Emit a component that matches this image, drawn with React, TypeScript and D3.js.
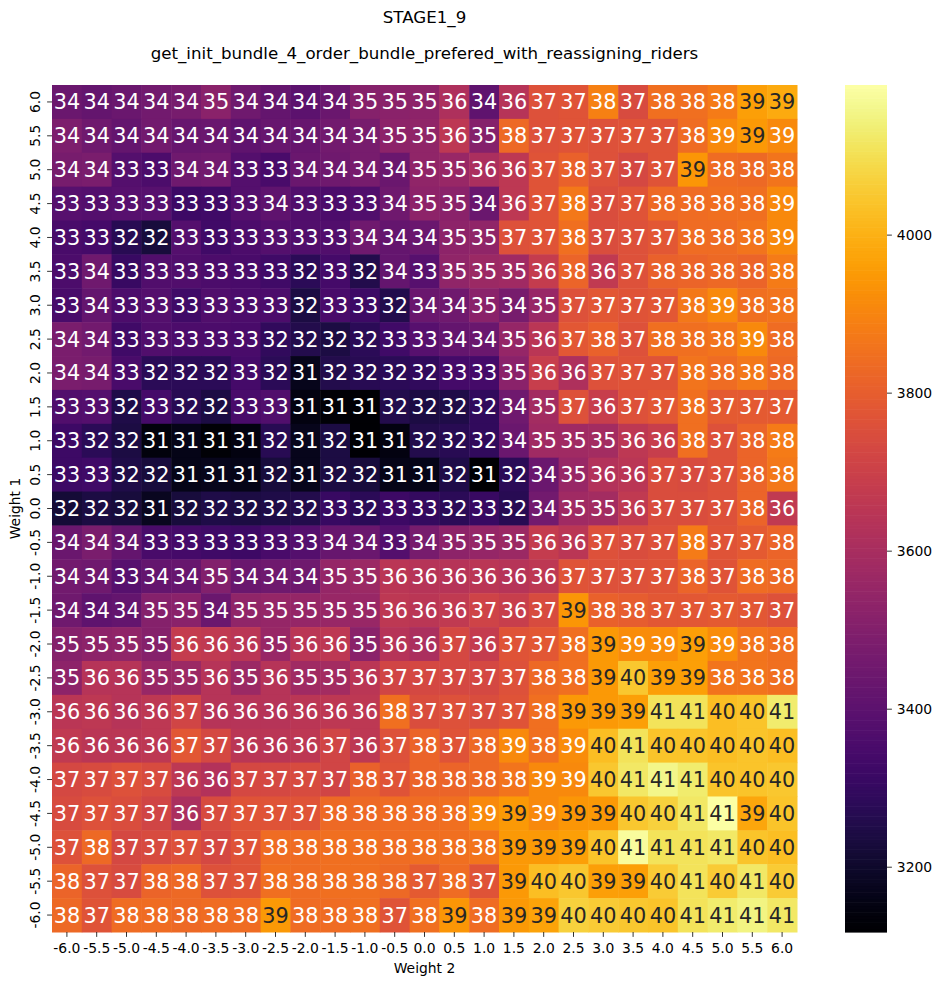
import React from 'react';
import * as d3 from 'd3';

const weight1: number[] = [6.0, 5.5, 5.0, 4.5, 4.0, 3.5, 3.0, 2.5, 2.0, 1.5, 1.0, 0.5, 0.0, -0.5, -1.0, -1.5, -2.0, -2.5, -3.0, -3.5, -4.0, -4.5, -5.0, -5.5, -6.0];
const weight2: number[] = [-6.0, -5.5, -5.0, -4.5, -4.0, -3.5, -3.0, -2.5, -2.0, -1.5, -1.0, -0.5, 0.0, 0.5, 1.0, 1.5, 2.0, 2.5, 3.0, 3.5, 4.0, 4.5, 5.0, 5.5, 6.0];
const colorbarTicks: number[] = [3200, 3400, 3600, 3800, 4000];

// rows: Weight 1 from 6.0 (top) to -6.0 (bottom); columns: Weight 2 from -6.0 to 6.0
const values: number[][] = [
  [3440, 3420, 3440, 3460, 3470, 3520, 3450, 3420, 3400, 3440, 3510, 3520, 3530, 3620, 3410, 3640, 3760, 3770, 3890, 3740, 3850, 3850, 3880, 3960, 3985],
  [3490, 3450, 3420, 3460, 3430, 3440, 3410, 3430, 3430, 3460, 3470, 3530, 3540, 3660, 3510, 3830, 3760, 3770, 3760, 3770, 3770, 3840, 3910, 3950, 3910],
  [3470, 3480, 3380, 3360, 3450, 3460, 3380, 3350, 3440, 3450, 3470, 3440, 3540, 3560, 3610, 3660, 3770, 3810, 3760, 3730, 3770, 3940, 3840, 3830, 3860],
  [3390, 3380, 3390, 3390, 3320, 3330, 3380, 3410, 3370, 3360, 3370, 3450, 3530, 3520, 3440, 3660, 3770, 3870, 3750, 3770, 3830, 3840, 3850, 3850, 3910],
  [3350, 3340, 3270, 3230, 3380, 3330, 3360, 3380, 3370, 3370, 3450, 3420, 3440, 3530, 3540, 3760, 3770, 3850, 3750, 3760, 3780, 3840, 3840, 3860, 3910],
  [3360, 3450, 3310, 3370, 3370, 3360, 3350, 3330, 3280, 3340, 3260, 3420, 3390, 3540, 3570, 3580, 3680, 3820, 3670, 3760, 3810, 3820, 3830, 3820, 3880],
  [3350, 3420, 3360, 3380, 3330, 3370, 3360, 3360, 3240, 3350, 3320, 3260, 3440, 3450, 3520, 3470, 3560, 3760, 3780, 3770, 3780, 3870, 3910, 3850, 3860],
  [3480, 3460, 3330, 3370, 3360, 3360, 3350, 3290, 3260, 3240, 3280, 3330, 3390, 3420, 3440, 3550, 3650, 3780, 3810, 3760, 3850, 3850, 3860, 3910, 3840],
  [3480, 3470, 3350, 3280, 3280, 3280, 3340, 3280, 3170, 3260, 3270, 3280, 3290, 3340, 3340, 3520, 3690, 3620, 3760, 3770, 3770, 3860, 3840, 3870, 3830],
  [3370, 3380, 3250, 3340, 3270, 3240, 3350, 3370, 3150, 3130, 3120, 3260, 3240, 3250, 3290, 3450, 3590, 3760, 3690, 3760, 3780, 3850, 3790, 3790, 3790],
  [3320, 3280, 3240, 3140, 3160, 3130, 3150, 3270, 3170, 3240, 3120, 3150, 3260, 3270, 3290, 3440, 3580, 3580, 3590, 3660, 3690, 3850, 3760, 3820, 3880],
  [3320, 3330, 3250, 3230, 3160, 3170, 3160, 3230, 3170, 3240, 3230, 3160, 3160, 3250, 3118, 3280, 3440, 3560, 3630, 3650, 3750, 3740, 3760, 3820, 3870],
  [3220, 3240, 3230, 3180, 3230, 3250, 3240, 3250, 3260, 3310, 3280, 3320, 3300, 3280, 3310, 3270, 3460, 3580, 3590, 3670, 3750, 3750, 3760, 3820, 3670],
  [3440, 3480, 3420, 3350, 3340, 3330, 3320, 3350, 3380, 3430, 3440, 3380, 3470, 3530, 3550, 3570, 3680, 3650, 3760, 3750, 3760, 3880, 3770, 3790, 3820],
  [3460, 3450, 3390, 3420, 3430, 3500, 3440, 3450, 3450, 3550, 3570, 3650, 3640, 3640, 3650, 3640, 3660, 3770, 3760, 3760, 3770, 3820, 3770, 3840, 3830],
  [3450, 3410, 3420, 3510, 3520, 3440, 3540, 3550, 3550, 3560, 3560, 3660, 3650, 3670, 3710, 3690, 3740, 3940, 3810, 3800, 3780, 3780, 3790, 3780, 3760],
  [3510, 3530, 3540, 3510, 3680, 3670, 3650, 3560, 3650, 3660, 3520, 3640, 3610, 3730, 3680, 3770, 3780, 3850, 3950, 3920, 3920, 3960, 3920, 3860, 3850],
  [3530, 3640, 3640, 3560, 3570, 3640, 3570, 3640, 3580, 3590, 3650, 3720, 3730, 3730, 3730, 3760, 3830, 3850, 3950, 4050, 3960, 3960, 3860, 3860, 3850],
  [3650, 3660, 3640, 3660, 3720, 3640, 3640, 3640, 3650, 3660, 3660, 3850, 3750, 3760, 3750, 3770, 3850, 3950, 3950, 3960, 4110, 4110, 4030, 4040, 4130],
  [3670, 3650, 3650, 3660, 3780, 3730, 3650, 3650, 3660, 3720, 3660, 3760, 3820, 3770, 3830, 3910, 3850, 3920, 4030, 4110, 4040, 4040, 4030, 4040, 4030],
  [3730, 3740, 3760, 3740, 3660, 3630, 3730, 3730, 3740, 3720, 3810, 3770, 3820, 3820, 3830, 3860, 3910, 3910, 4050, 4120, 4160, 4130, 4040, 4040, 4050],
  [3740, 3760, 3750, 3720, 3610, 3740, 3770, 3770, 3770, 3830, 3830, 3840, 3840, 3850, 3910, 3950, 3910, 3940, 3950, 4050, 4070, 4120, 4190, 3980, 4040],
  [3760, 3830, 3730, 3740, 3760, 3730, 3770, 3840, 3840, 3850, 3850, 3840, 3850, 3850, 3860, 3950, 3950, 3960, 4040, 4180, 4110, 4110, 4120, 4040, 4030],
  [3820, 3760, 3740, 3820, 3830, 3760, 3770, 3850, 3840, 3850, 3850, 3830, 3790, 3840, 3770, 3950, 4030, 4050, 3960, 3960, 4060, 4110, 4060, 4120, 4060],
  [3830, 3770, 3840, 3840, 3830, 3840, 3840, 3950, 3840, 3840, 3850, 3770, 3850, 3940, 3840, 3950, 3970, 4070, 4060, 4050, 4040, 4110, 4130, 4150, 4120],
];

const FONT = "'DejaVu Sans', Verdana, sans-serif";

function luminance(c: string): number {
  const { r, g, b } = d3.rgb(c);
  const f = (v: number) => {
    v /= 255;
    return v <= 0.03928 ? v / 12.92 : Math.pow((v + 0.055) / 1.055, 2.4);
  };
  return 0.2126 * f(r) + 0.7152 * f(g) + 0.0722 * f(b);
}

export default function App() {
  const W = 941, H = 985;
  const left = 52, right = 797, top = 85, bottom = 932;
  const fmt = (v: number) => v.toFixed(1);

  const x = d3.scaleBand<string>().domain(weight2.map(fmt)).range([left, right]);
  const y = d3.scaleBand<string>().domain(weight1.map(fmt)).range([top, bottom]);
  const ext = d3.extent(values.flat()) as [number, number];
  const color = d3.scaleSequential(d3.interpolateInferno).domain(ext);

  const cbX = 845, cbW = 42;
  const cbY = d3.scaleLinear().domain(ext).range([bottom, top]);
  const steps = d3.range(256).map(i => ext[0] + (ext[1] - ext[0]) * i / 256);
  const stepH = (bottom - top) / 256;
  const cx = (left + right) / 2;

  return (
    <svg width={W} height={H} style={{ position: 'absolute', left: 0, top: 0, background: '#fff' }} fontFamily={FONT}>
      <rect x={0} y={0} width={W} height={H} fill="#fff" />
      <text x={cx} y={23} textAnchor="middle" fontSize={16.67} fill="#000">STAGE1_9</text>
      <text x={cx} y={59} textAnchor="middle" fontSize={16.67} fill="#000">get_init_bundle_4_order_bundle_prefered_with_reassigning_riders</text>

      {values.map((row, i) => row.map((v, j) => {
        const xs = x(fmt(weight2[j]))!;
        const ys = y(fmt(weight1[i]))!;
        const c = color(v);
        return (
          <g key={`${i}-${j}`}>
            <rect x={xs} y={ys} width={x.bandwidth() + 0.5} height={y.bandwidth() + 0.5} fill={c} />
          </g>
        );
      }))}
      {values.map((row, i) => row.map((v, j) => {
        const xs = x(fmt(weight2[j]))!;
        const ys = y(fmt(weight1[i]))!;
        const c = color(v);
        const tc = luminance(c) > 0.408 ? '#262626' : '#ffffff';
        return (
          <text key={`t${i}-${j}`} x={xs + x.bandwidth() / 2} y={ys + y.bandwidth() / 2 + 7.5} textAnchor="middle" fontSize={20.8} fill={tc}>
            {Math.floor(v / 100)}
          </text>
        );
      }))}

      {/* x axis */}
      {weight2.map(w => {
        const px = x(fmt(w))! + x.bandwidth() / 2;
        return (
          <g key={`xt${w}`}>
            <line x1={px} x2={px} y1={bottom} y2={bottom + 4.9} stroke="#000" strokeWidth={0.8} />
            <text x={px} y={bottom + 20.5} textAnchor="middle" fontSize={13.9} fill="#000">{fmt(w)}</text>
          </g>
        );
      })}
      <text x={cx} y={973} textAnchor="middle" fontSize={13.9} fill="#000">Weight 2</text>

      {/* y axis */}
      {weight1.map(w => {
        const py = y(fmt(w))! + y.bandwidth() / 2;
        return (
          <g key={`yt${w}`}>
            <line x1={left - 4.9} x2={left} y1={py} y2={py} stroke="#000" strokeWidth={0.8} />
            <text transform={`translate(${left - 12.5},${py}) rotate(-90)`} textAnchor="middle" fontSize={13.9} fill="#000">{fmt(w)}</text>
          </g>
        );
      })}
      <text transform={`translate(20,${(top + bottom) / 2}) rotate(-90)`} textAnchor="middle" fontSize={13.9} fill="#000">Weight 1</text>

      {/* colorbar */}
      {steps.map((s, i) => (
        <rect key={`cb${i}`} x={cbX} y={bottom - (i + 1) * stepH} width={cbW} height={stepH + 0.6} fill={color(s + (ext[1] - ext[0]) / 512)} />
      ))}
      {colorbarTicks.map(t => (
        <g key={`ct${t}`}>
          <line x1={cbX + cbW} x2={cbX + cbW + 4.9} y1={cbY(t)} y2={cbY(t)} stroke="#000" strokeWidth={0.8} />
          <text x={cbX + cbW + 9.8} y={cbY(t) + 5} fontSize={13.9} fill="#000">{t}</text>
        </g>
      ))}
    </svg>
  );
}
